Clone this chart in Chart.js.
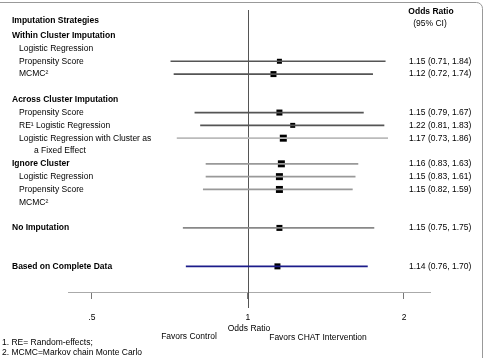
<!DOCTYPE html>
<html lang="en">
<head>
<meta charset="UTF-8">
<title>Imputation Strategies - Odds Ratio</title>
<script src="https://cdn.jsdelivr.net/npm/chart.js"></script>
<style>
    body { margin: 0; background: #fff; }
    .chart-box { width: 484px; height: 358px; position: relative; }
</style>
</head>
<body>
<div class="chart-box"><canvas id="grafico"></canvas></div>
<script>
    // rows of the table (index = row number, '' = empty row)
    const rowLabels = [
        'Imputation Strategies', 'Within Cluster Imputation', 'Logistic Regression', 'Propensity Score', 'MCMC\u00B2', '',
        'Across Cluster Imputation', 'Propensity Score', 'RE\u00B9 Logistic Regression', 'Logistic Regression with Cluster as',
        'a Fixed Effect', 'Ignore Cluster', 'Logistic Regression', 'Propensity Score', 'MCMC\u00B2', '',
        'No Imputation', '', '', 'Based on Complete Data'
    ];
    const boldRows = [0, 1, 6, 11, 16, 19];

    // estimates
    const estRows   = [3, 4, 7, 8, 9, 11, 12, 13, 16, 19];
    const oddsRatio = [1.15, 1.12, 1.15, 1.22, 1.17, 1.16, 1.15, 1.15, 1.15, 1.14];
    const ciLow     = [0.71, 0.72, 0.79, 0.81, 0.73, 0.83, 0.83, 0.82, 0.75, 0.76];
    const ciHigh    = [1.84, 1.74, 1.67, 1.83, 1.86, 1.63, 1.61, 1.59, 1.75, 1.70];

    const xTicks = [0.5, 1, 2];
    const xTickLabels = ['.5', '1', '2'];

    // estilos
    const corLinha = ['#555', '#555', '#555', '#555', '#bbb', '#999', '#999', '#999', '#888', '#1c1c8a'];
    const ladoMarca = [5, 6, 6, 5, 7, 7, 7, 7, 6, 6];
    const fonte = '"Liberation Sans", Arial, sans-serif';

    function fmt(v) { return v.toFixed(2); }

    const textos = {
        id: 'textos',
        beforeDatasetsDraw(chart) {
            const c = chart.ctx;
            const x = chart.scales.x;
            const px = Math.round(x.getPixelForValue(1)) + 0.5;
            c.save();
            c.strokeStyle = '#555';
            c.lineWidth = 1;
            c.beginPath();
            c.moveTo(px, 10);
            c.lineTo(px, 308);
            c.stroke();
            c.restore();
        },
        afterDraw(chart) {
            const c = chart.ctx;
            const y = chart.scales.y;
            c.save();
            c.fillStyle = '#000';
            c.textBaseline = 'middle';

            rowLabels.forEach((t, r) => {
                if (!t) return;
                const bold = boldRows.includes(r);
                c.font = (bold ? 'bold ' : '') + '8.5px ' + fonte;
                let lx = bold ? 12 : 19;
                if (r === 10) lx = 34;
                let ly = y.getPixelForValue(r);
                if (r === 0) ly -= 2;
                c.textAlign = 'left';
                c.fillText(t, lx, ly);
            });

            c.font = '8.5px ' + fonte;
            estRows.forEach((r, i) => {
                const txt = oddsRatio[i].toFixed(2) + ' (' + fmt(ciLow[i]) + ', ' + fmt(ciHigh[i]) + ')';
                c.fillText(txt, 409, y.getPixelForValue(r));
            });

            c.textAlign = 'center';
            c.font = 'bold 8.5px ' + fonte;
            c.fillText('Odds Ratio', 431, 12);
            c.font = '8.5px ' + fonte;
            c.fillText('(95% CI)', 430, 24);

            c.fillText('Favors Control', 189, 337);
            c.fillText('Favors CHAT Intervention', 318, 338);

            c.textAlign = 'left';
            c.fillText('1. RE= Random-effects;', 2, 343);
            c.fillText('2. MCMC=Markov chain Monte Carlo', 2, 353);

            // moldura
            c.strokeStyle = '#999';
            c.lineWidth = 1;
            c.beginPath();
            c.moveTo(0, 2.5);
            c.lineTo(476, 2.5);
            c.arcTo(482.5, 2.5, 482.5, 9, 6);
            c.lineTo(482.5, 358);
            c.stroke();
            c.restore();
        }
    };

    new Chart(document.getElementById('grafico'), {
        type: 'bar',
        data: {
            datasets: [
                {
                    type: 'bar',
                    data: estRows.map((r, i) => ({ y: r, x: [ciLow[i], ciHigh[i]] })),
                    backgroundColor: corLinha,
                    borderWidth: 0,
                    barThickness: 1
                },
                {
                    type: 'scatter',
                    data: estRows.map((r, i) => ({ x: oddsRatio[i], y: r })),
                    pointStyle: 'rect',
                    pointRadius: ladoMarca.map(s => s / Math.SQRT2),
                    backgroundColor: '#000',
                    borderWidth: 0
                }
            ]
        },
        options: {
            indexAxis: 'y',
            responsive: true,
            maintainAspectRatio: false,
            animation: false,
            layout: { padding: { left: 68, right: 54, top: 10, bottom: 0 } },
            plugins: { legend: { display: false }, tooltip: { enabled: false } },
            scales: {
                y: { type: 'linear', reverse: true, min: -1, max: 21, offset: false, display: false },
                x: {
                    type: 'logarithmic',
                    min: 0.4496,
                    max: 2.2449,
                    afterBuildTicks: (s) => { s.ticks = xTicks.map(v => ({ value: v })); },
                    afterFit: (s) => { s.height = 66; },
                    ticks: {
                        color: '#000',
                        padding: 14,
                        font: { family: fonte, size: 8.5 },
                        callback: (v) => xTickLabels[xTicks.indexOf(v)]
                    },
                    grid: { drawOnChartArea: false, drawTicks: true, tickLength: 7, color: '#777' },
                    border: { display: true, color: '#aaa', width: 1 },
                    title: {
                        display: true,
                        text: 'Odds Ratio',
                        color: '#000',
                        font: { family: fonte, size: 8.5 },
                        padding: { top: 0, bottom: 24 }
                    }
                }
            }
        },
        plugins: [textos]
    });
</script>
</body>
</html>
